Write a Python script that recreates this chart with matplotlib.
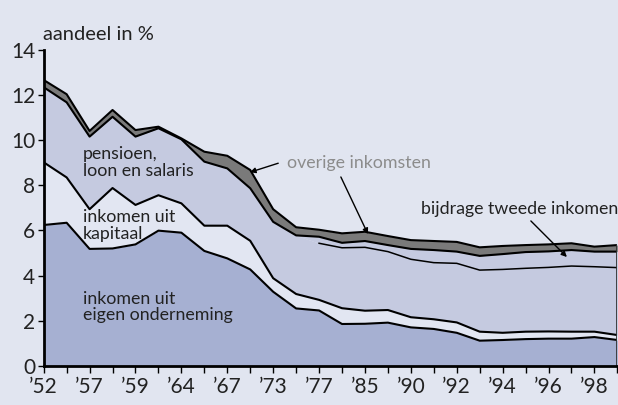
import numpy as np
import matplotlib
matplotlib.use("Agg")
import matplotlib.pyplot as plt

plt.rcParams['font.family'] = ['Lato', 'DejaVu Sans']

# x categories (26 observations, every other one labelled)
tick_labels = ["’52", "", "’57", "", "’59", "", "’64", "", "’67", "", "’73", "",
               "’77", "", "’85", "", "’90", "", "’92", "", "’94", "", "’96", "", "’98", ""]

# shares in % (stacked from bottom)
onderneming = [6.24, 6.34, 5.18, 5.20, 5.38, 5.99, 5.90, 5.09, 4.76, 4.27, 3.28, 2.54, 2.45,
               1.85, 1.86, 1.91, 1.70, 1.63, 1.46, 1.11, 1.14, 1.18, 1.20, 1.20, 1.27, 1.14]
kapitaal = [2.78, 2.01, 1.76, 2.68, 1.75, 1.57, 1.30, 1.12, 1.45, 1.27, 0.60, 0.64, 0.47,
            0.70, 0.58, 0.56, 0.45, 0.43, 0.46, 0.40, 0.32, 0.33, 0.32, 0.31, 0.24, 0.22]
pensioen = [3.33, 3.33, 3.22, 3.16, 3.03, 2.97, 2.84, 2.84, 2.54, 2.33, 2.50, 2.60, 2.51,
            2.68, 2.81, 2.59, 2.57, 2.51, 2.62, 2.73, 2.81, 2.81, 2.84, 2.91, 2.88, 2.99]
# bijdrage tweede inkomen is only shown from '77 onwards
tweede = [0, 0, 0, 0, 0, 0, 0, 0, 0, 0, 0, 0, 0.29,
          0.22, 0.28, 0.29, 0.46, 0.56, 0.52, 0.63, 0.68, 0.72, 0.71, 0.71, 0.67, 0.71]
tweede_start = 12
overig = [0.32, 0.36, 0.25, 0.30, 0.29, 0.07, 0.04, 0.44, 0.56, 0.81, 0.56, 0.36, 0.31,
          0.42, 0.41, 0.40, 0.39, 0.40, 0.43, 0.38, 0.36, 0.31, 0.31, 0.30, 0.22, 0.29]

bg = "#e1e5f0"
c_dark_blue = "#a6b0d2"
c_light = "#e2e6f2"
c_mid = "#c5cae0"
c_grey = "#7a7a7a"

x = np.arange(len(onderneming))
layers = [onderneming, kapitaal, pensioen, tweede, overig]
colors = [c_dark_blue, c_light, c_mid, c_mid, c_grey]
cum = np.cumsum(np.array(layers), axis=0)

fig = plt.figure(figsize=(6.18, 4.05), dpi=100, facecolor=bg)
ax = fig.add_axes([0.0707, 0.097, 0.9283, 0.7795], facecolor=bg)

lower = np.zeros(len(x))
for vals, col in zip(cum, colors):
    ax.fill_between(x, lower, vals, color=col, lw=0)
    lower = vals

lw = 1.5
ax.plot(x, cum[0], color="black", lw=lw)
ax.plot(x, cum[1], color="black", lw=lw)
ax.plot(x[tweede_start:], cum[2][tweede_start:], color="black", lw=1.1)
ax.plot(x, cum[3], color="black", lw=lw)
ax.plot(x, cum[4], color="black", lw=lw)
ax.plot([x[-1], x[-1]], [0, cum[4][-1]], color="#333333", lw=2)

ax.set_xlim(0, len(x) - 1)
ax.set_ylim(0, 14)
ax.set_xticks(x)
ax.set_xticklabels(tick_labels)
ax.set_yticks(np.arange(0, 15, 2))

for s in ["top", "right"]:
    ax.spines[s].set_visible(False)
for s in ["left", "bottom"]:
    ax.spines[s].set_linewidth(2)
ax.tick_params(axis="both", labelsize=15, colors="black", width=1, length=5, pad=3)
ax.tick_params(axis="y", length=4, pad=2)
for lab in ax.get_xticklabels() + ax.get_yticklabels():
    lab.set_color("#222222")

ax.text(-0.05, 14.3, "aandeel in %", fontsize=14.5, color="#222222", ha="left", va="bottom")

tk = dict(fontsize=12.8, color="#222222", ha="left", va="center", linespacing=1.05)
ax.text(1.71, 9.0, "pensioen,\nloon en salaris", **tk)
ax.text(1.71, 6.22, "inkomen uit\nkapitaal", **tk)
ax.text(1.71, 2.6, "inkomen uit\neigen onderneming", **tk)
ax.text(10.6, 9.0, "overige inkomsten", fontsize=12.8, color="#8c8c8c", ha="left", va="center")
ax.text(16.44, 6.95, "bijdrage tweede inkomen", fontsize=12.8, color="#222222", ha="left", va="center")

arr = dict(arrowstyle="-|>", color="black", lw=1, mutation_scale=8, shrinkA=0, shrinkB=0)
ax.annotate("", xy=(8.99, 8.58), xytext=(10.22, 8.98), arrowprops=arr)
ax.annotate("", xy=(14.13, 5.84), xytext=(12.95, 8.37), arrowprops=arr)
ax.annotate("", xy=(22.8, 4.82), xytext=(21.23, 6.42), arrowprops=arr)

fig.savefig("out.png", dpi=100, facecolor=bg)
